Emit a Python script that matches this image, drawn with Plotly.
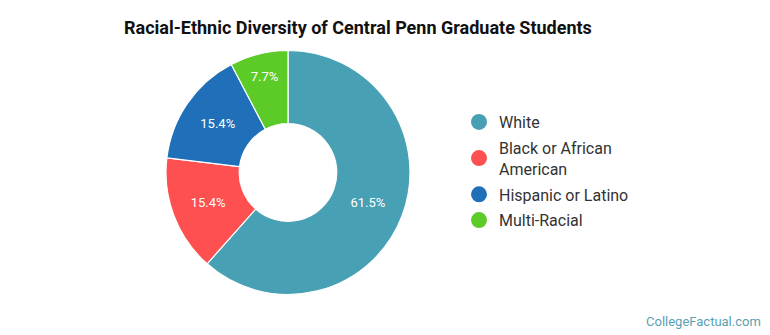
import plotly.graph_objects as go

categories = ["White", "Black or African American", "Hispanic or Latino", "Multi-Racial"]
legend_labels = ["White", "Black or African<br>American", "Hispanic or Latino", "Multi-Racial"]
values = [8, 2, 2, 1]
colors = ["#48a0b4", "#fe5050", "#1f70b8", "#5ccb28"]

fig = go.Figure()
fig.add_trace(go.Pie(
    labels=categories, values=values, sort=False, direction="clockwise", rotation=0,
    hole=0.4, marker=dict(colors=colors, line=dict(color="white", width=1.2)),
    textinfo="percent", texttemplate="%{percent:.1%}", textposition="inside",
    insidetextorientation="horizontal",
    textfont=dict(family="Roboto", size=13, color="white"),
    showlegend=False,
    domain=dict(x=[166/770, 410/770], y=[40/335, 285/335]),
    hoverinfo="label+percent",
))
for i, (lab, col) in enumerate(zip(legend_labels, colors)):
    fig.add_trace(go.Scatter(x=[None], y=[None], mode="markers", name=lab,
                             legendgroup=f"g{i}",
                             marker=dict(symbol="circle", size=16, color=col),
                             showlegend=True))

fig.update_layout(
    width=770, height=335, margin=dict(l=0, r=0, t=0, b=0),
    paper_bgcolor="white", plot_bgcolor="white",
    xaxis=dict(visible=False), yaxis=dict(visible=False),
    title=dict(text="<b>Racial-Ethnic Diversity of Central Penn Graduate Students</b>",
               x=124/770, xanchor="left", y=1-28/335, yanchor="middle",
               font=dict(family="Roboto", size=18, color="#111")),
    legend=dict(x=459/770, xanchor="left", y=1-105/335, yanchor="top",
                font=dict(family="Roboto", size=16, color="#333"),
                tracegroupgap=2, bgcolor="rgba(0,0,0,0)"),
    annotations=[dict(text="CollegeFactual.com", x=763/770, y=1-321/335, xref="paper", yref="paper",
                      xanchor="right", yanchor="middle", showarrow=False,
                      font=dict(family="Roboto", size=13, color="#5a9fb2"))],
)
fig.write_html("out.html")
